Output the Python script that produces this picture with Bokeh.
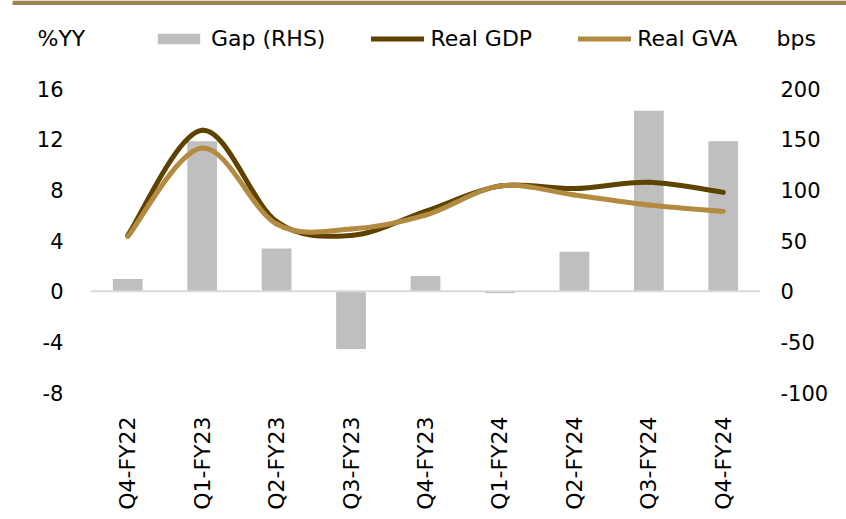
import numpy as np
from bokeh.plotting import figure
from bokeh.layouts import column
from bokeh.models import (Range1d, LinearAxis, FixedTicker, Span, Legend, LegendItem,
                          Label, BoxAnnotation, ColumnDataSource)
from bokeh.embed import file_html
from bokeh.resources import INLINE

quarters = ["Q4-FY22", "Q1-FY23", "Q2-FY23", "Q3-FY23", "Q4-FY23",
            "Q1-FY24", "Q2-FY24", "Q3-FY24", "Q4-FY24"]
real_gdp = [4.4, 12.7, 5.5, 4.4, 6.3, 8.3, 8.1, 8.6, 7.8]
real_gva = [4.3, 11.3, 5.3, 4.9, 6.0, 8.3, 7.6, 6.8, 6.3]
gap_bps = [12, 148, 42, -57, 15, -2, 39, 178, 148]
left_ticks = [-8, -4, 0, 4, 8, 12, 16]
right_ticks = [-100, -50, 0, 50, 100, 150, 200]
series_names = ["Gap (RHS)", "Real GDP", "Real GVA"]
left_unit = "%YY"
right_unit = "bps"

FONT = "DejaVu Sans"
GRAY = "#BFBFBF"
DARK = "#5E4200"
LIGHT = "#B38B40"
GOLD = "#9C8550"

W = 846
HEAD_H = 64
MAIN_H = 519 - HEAD_H

xs = np.arange(len(quarters)) + 0.5

# ---------------- main chart ----------------
p = figure(width=W, height=MAIN_H, output_backend="svg", toolbar_location=None,
           x_range=Range1d(0, len(quarters)), y_range=Range1d(-8, 16),
           min_border_left=90, min_border_right=86, min_border_top=88 - HEAD_H,
           min_border_bottom=MAIN_H - (88 - HEAD_H) - 304)
p.frame_align = False
p.extra_y_ranges = {"bps": Range1d(-100, 200)}
p.outline_line_color = None
p.xgrid.visible = False
p.ygrid.visible = False

p.vbar(x=xs, top=gap_bps, width=0.4, bottom=0, fill_color=GRAY, line_color=None,
       y_range_name="bps")

p.add_layout(Span(location=0, dimension="width", line_color="#D9D9D9", line_width=2))


def smooth(x, y, t=1 / 6.0):
    x = np.asarray(x, float)
    y = np.asarray(y, float)
    n = len(x)
    xp = np.concatenate([[x[0]], x, [x[-1]]])
    yp = np.concatenate([[y[0]], y, [y[-1]]])
    return dict(x0=x[:-1], y0=y[:-1], x1=x[1:], y1=y[1:],
                cx0=x[:-1] + (xp[2:n + 1] - xp[0:n - 1]) * t,
                cy0=y[:-1] + (yp[2:n + 1] - yp[0:n - 1]) * t,
                cx1=x[1:] - (xp[3:n + 2] - xp[1:n]) * t,
                cy1=y[1:] - (yp[3:n + 2] - yp[1:n]) * t)


for vals, col in ((real_gdp, DARK), (real_gva, LIGHT)):
    p.bezier(source=ColumnDataSource(smooth(xs, vals)), x0="x0", y0="y0", x1="x1", y1="y1",
             cx0="cx0", cy0="cy0", cx1="cx1", cy1="cy1",
             line_color=col, line_width=5, line_cap="round")

p.yaxis.ticker = FixedTicker(ticks=left_ticks)
p.yaxis.major_label_overrides = {t: str(t) for t in left_ticks}
right = LinearAxis(y_range_name="bps", ticker=FixedTicker(ticks=right_ticks))
right.major_label_overrides = {t: str(t) for t in right_ticks}
p.add_layout(right, "right")
for ax in (p.yaxis[0], right):
    ax.axis_line_color = None
    ax.major_tick_line_color = None
    ax.minor_tick_line_color = None
    ax.major_label_text_font = FONT
    ax.major_label_text_font_size = "21px"
    ax.major_label_text_color = "#000000"
p.yaxis[0].major_label_standoff = 21
right.major_label_standoff = 14

p.xaxis.ticker = FixedTicker(ticks=list(xs))
p.xaxis.major_label_overrides = {float(v): q for v, q in zip(xs, quarters)}
p.xaxis.major_label_orientation = np.pi / 2
p.xaxis.axis_line_color = None
p.xaxis.major_tick_line_color = None
p.xaxis.minor_tick_line_color = None
p.xaxis.major_label_text_font = FONT
p.xaxis.major_label_text_font_size = "22px"
p.xaxis.major_label_text_color = "#000000"
p.xaxis.major_label_standoff = 18

# ---------------- header (legend) ----------------
h = figure(width=W, height=HEAD_H, output_backend="svg", toolbar_location=None,
           x_range=Range1d(0, W), y_range=Range1d(HEAD_H, 0),
           x_axis_location=None, y_axis_location=None, min_border=0)
h.frame_align = False
h.outline_line_color = None
h.xgrid.visible = False
h.ygrid.visible = False

# legend proxies (no visible data, only used to draw the legend swatches)
r_gap = h.vbar(x=[np.nan], top=[np.nan], width=1, fill_color=GRAY, line_color=None)
r_gdp = h.line(x=[np.nan], y=[np.nan], line_color=DARK, line_width=5, line_cap="round")
r_gva = h.line(x=[np.nan], y=[np.nan], line_color=LIGHT, line_width=5, line_cap="round")

legend = Legend(items=[LegendItem(label=series_names[0], renderers=[r_gap]),
                       LegendItem(label=series_names[1], renderers=[r_gdp]),
                       LegendItem(label=series_names[2], renderers=[r_gva])],
                orientation="horizontal", location=(152, 13),
                glyph_width=53, glyph_height=13, label_standoff=6, spacing=46,
                padding=0, margin=0, border_line_color=None, background_fill_alpha=0,
                label_text_font=FONT, label_text_font_size="22px", label_text_color="#000000")
h.add_layout(legend, "center")

for txt, xx in ((left_unit, 37), (right_unit, 776)):
    h.add_layout(Label(x=xx, y=38, text=txt, text_baseline="middle", text_align="left",
                       text_font=FONT, text_font_size="22px", text_color="#000000"))

h.add_layout(BoxAnnotation(left=12, right=W, top=0, bottom=4.5, fill_color=GOLD,
                           fill_alpha=1, line_color=None))

layout = column(h, p, spacing=0)
open("out.html", "w").write(file_html(layout, INLINE))
